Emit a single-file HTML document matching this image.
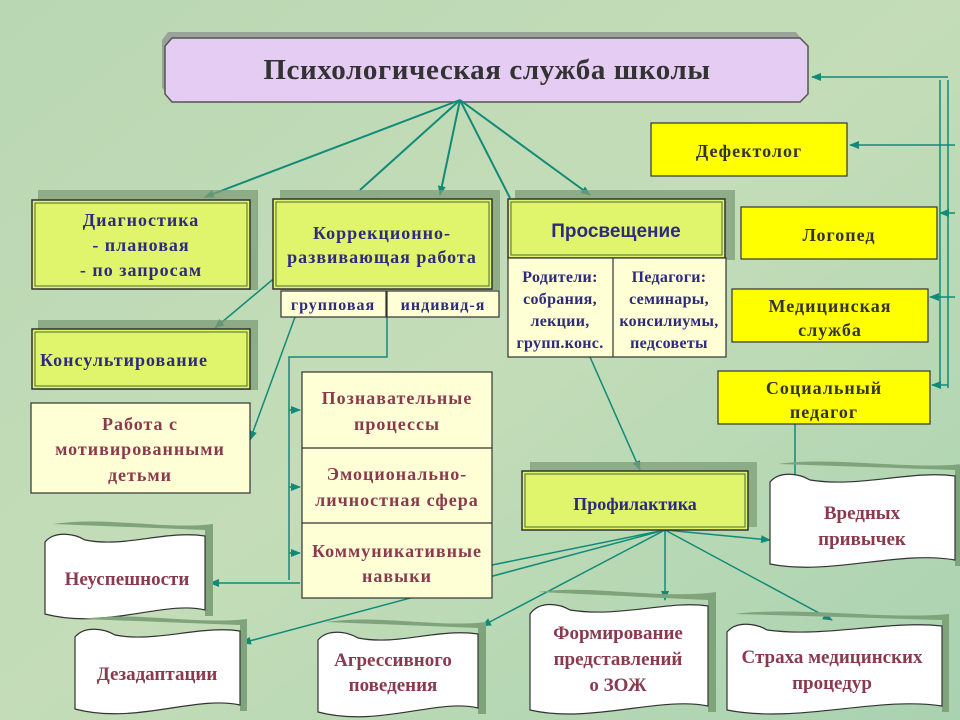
<!DOCTYPE html>
<html><head><meta charset="utf-8"><style>
html,body{margin:0;padding:0;width:960px;height:720px;overflow:hidden}
svg{display:block}
text{font-family:"Liberation Serif","Noto Serif CJK SC",serif;font-weight:bold}
.sp{letter-spacing:1px}
</style></head><body>
<svg width="960" height="720" viewBox="0 0 960 720" xmlns="http://www.w3.org/2000/svg">
<defs>
<linearGradient id="bg" x1="0" y1="0" x2="1" y2="1">
<stop offset="0" stop-color="#b9d7b3"/><stop offset="0.5" stop-color="#c4ddb8"/><stop offset="1" stop-color="#a9d2b0"/>
</linearGradient>
<marker id="a" markerWidth="10" markerHeight="8" refX="9" refY="4" orient="auto" markerUnits="userSpaceOnUse"><path d="M0,0 L10,4 L0,8 Z" fill="#128a78"/></marker>
</defs>
<rect width="960" height="720" fill="url(#bg)"/>

<!-- title -->
<path d="M172,38 L800,38 L806,46 L806,94 L800,100 L172,100 L166,94 L166,46 Z" fill="#9aa39a" transform="translate(-4,-6)"/>
<path d="M172,38 L800,38 L808,46 L808,94 L800,102 L172,102 L165,94 L165,46 Z" fill="#e4ccf2" stroke="#555" stroke-width="1.5"/>
<text x="487" y="79" font-size="29" text-anchor="middle" fill="#333" style="letter-spacing:0.6px">Психологическая служба школы</text>

<g stroke="#128a78" stroke-width="2" fill="none">
<line x1="460" y1="100" x2="205" y2="197" marker-end="url(#a)"/>
<line x1="460" y1="100" x2="440" y2="195" marker-end="url(#a)"/>
<line x1="460" y1="100" x2="360" y2="190"/>
<line x1="460" y1="100" x2="510" y2="198"/>
<line x1="460" y1="100" x2="590" y2="195" marker-end="url(#a)"/>
</g>
<g stroke="#128a78" stroke-width="1.5" fill="none">
<line x1="948" y1="80" x2="948" y2="388"/>
<line x1="940" y1="80" x2="940" y2="388"/>
<line x1="948" y1="77" x2="812" y2="77" marker-end="url(#a)"/>
<line x1="955" y1="145" x2="850" y2="145" marker-end="url(#a)"/>
<line x1="955" y1="213" x2="940" y2="213" marker-end="url(#a)"/>
<line x1="955" y1="297" x2="930" y2="297" marker-end="url(#a)"/>
<line x1="948" y1="385" x2="932" y2="385" marker-end="url(#a)"/>
<polyline points="795,424 795,492" marker-end="url(#a)"/>
<line x1="290" y1="265" x2="215" y2="328" marker-end="url(#a)"/>
<line x1="295" y1="317" x2="250" y2="440" marker-end="url(#a)"/>
<polyline points="387,317 387,357 289,357 289,580"/>
<line x1="289" y1="410" x2="300" y2="410" marker-end="url(#a)"/>
<line x1="289" y1="487" x2="300" y2="487" marker-end="url(#a)"/>
<line x1="289" y1="553" x2="300" y2="553" marker-end="url(#a)"/>
<line x1="590" y1="357" x2="640" y2="470" marker-end="url(#a)"/>
<line x1="665" y1="530" x2="492" y2="565"/>
<line x1="300" y1="583" x2="210" y2="583" marker-end="url(#a)"/>
<line x1="665" y1="530" x2="242" y2="643" marker-end="url(#a)"/>
<line x1="665" y1="530" x2="482" y2="626" marker-end="url(#a)"/>
<line x1="665" y1="530" x2="665" y2="600" marker-end="url(#a)"/>
<line x1="665" y1="530" x2="832" y2="620" marker-end="url(#a)"/>
<line x1="665" y1="530" x2="770" y2="540" marker-end="url(#a)"/>
</g>

<!-- shadows -->
<g fill="#7d9c78" opacity="0.75">
<rect x="38" y="190" width="220" height="100"/>
<rect x="280" y="190" width="220" height="100"/>
<rect x="515" y="190" width="220" height="70"/>
<rect x="38" y="320" width="220" height="70"/>
<rect x="530" y="462" width="227" height="65"/>
</g>
<g stroke="#333" stroke-width="1.5">
<rect x="32" y="200" width="218" height="89" fill="#e0f46c"/>
<rect x="273" y="199" width="219" height="90" fill="#e0f46c"/>
<rect x="508" y="199" width="217" height="59" fill="#e0f46c"/>
<rect x="32" y="329" width="218" height="60" fill="#e0f46c"/>
<rect x="522" y="471" width="226" height="59" fill="#e0f46c"/>
</g>
<g stroke="#4a6a3a" stroke-width="1" fill="none">
<rect x="35" y="203" width="212" height="83"/><rect x="276" y="202" width="213" height="84"/>
<rect x="511" y="202" width="211" height="53"/><rect x="35" y="332" width="212" height="54"/>
<rect x="525" y="474" width="220" height="53"/>
</g>
<g stroke="#333" stroke-width="1.2" fill="#ffffd6">
<rect x="281" y="291" width="105" height="26"/><rect x="387" y="291" width="112" height="26"/>
<rect x="31" y="403" width="219" height="90"/>
<rect x="302" y="372" width="190" height="226"/>
<line x1="302" y1="448" x2="492" y2="448"/><line x1="302" y1="523" x2="492" y2="523"/>
<rect x="508" y="258" width="218" height="99"/><line x1="613" y1="258" x2="613" y2="357"/>
</g>
<g stroke="#333" stroke-width="1.2" fill="#ffff00">
<rect x="651" y="123" width="196" height="53"/>
<rect x="741" y="207" width="196" height="52"/>
<rect x="732" y="289" width="196" height="53"/>
<rect x="718" y="371" width="212" height="53"/>
</g>

<g font-size="18" fill="#2e2a7e" text-anchor="middle" class="sp">
<text x="141" y="226">Диагностика</text><text x="141" y="251">- плановая</text><text x="141" y="276">- по запросам</text>
<text x="382" y="239">Коррекционно-</text><text x="382" y="263">развивающая  работа</text>
<text x="333" y="310" font-size="16">групповая</text><text x="443" y="310" font-size="16">индивид-я</text>
<text x="616" y="237" style="font-family:'Liberation Sans',sans-serif;letter-spacing:0" font-size="19">Просвещение</text>
<text x="560" y="282" font-size="16" style="letter-spacing:0.3px">Родители:</text><text x="560" y="304" font-size="16" style="letter-spacing:0.3px">собрания,</text><text x="560" y="326" font-size="16" style="letter-spacing:0.3px">лекции,</text><text x="560" y="348" font-size="16" style="letter-spacing:0.3px">групп.конс.</text>
<text x="669" y="282" font-size="16" style="letter-spacing:0.3px">Педагоги:</text><text x="669" y="304" font-size="16" style="letter-spacing:0.3px">семинары,</text><text x="669" y="326" font-size="16" style="letter-spacing:0.3px">консилиумы,</text><text x="669" y="348" font-size="16" style="letter-spacing:0.3px">педсоветы</text>
<text x="635" y="510" style="letter-spacing:0">Профилактика</text>
</g>
<text x="40" y="366" font-size="18" fill="#2e2a7e" class="sp">Консультирование</text>
<g font-size="18" fill="#8a3a4e" text-anchor="middle" class="sp">
<text x="140" y="430">Работа с</text><text x="140" y="455">мотивированными</text><text x="140" y="481">детьми</text>
<text x="397" y="404">Познавательные</text><text x="397" y="430">процессы</text>
<text x="397" y="480">Эмоционально-</text><text x="397" y="506">личностная сфера</text>
<text x="397" y="557">Коммуникативные</text><text x="397" y="582">навыки</text>
</g>
<g font-size="18" fill="#333" text-anchor="middle" class="sp">
<text x="749" y="157">Дефектолог</text>
<text x="839" y="241">Логопед</text>
<text x="830" y="312">Медицинская</text><text x="830" y="336">служба</text>
<text x="824" y="394">Социальный</text><text x="824" y="418">педагог</text>
</g>

<!-- scrolls -->
<g stroke="#333" stroke-width="1.2">
<g transform="translate(45,530)"><path d="M8,-6 C60,-14 120,0 168,-6 L168,86 L160,86 L160,0 Z" fill="#7fa37a" stroke="none"/><path d="M0,12 C10,0 30,4 40,10 C80,18 120,0 160,6 L160,80 C120,70 60,100 0,84 Z" fill="#fff"/></g>
<g transform="translate(75,625)"><path d="M8,-6 C60,-14 120,0 172,-6 L172,86 L165,86 L165,0 Z" fill="#7fa37a" stroke="none"/><path d="M0,12 C10,0 30,4 40,10 C80,18 125,0 165,6 L165,80 C120,70 60,100 0,84 Z" fill="#fff"/></g>
<g transform="translate(318,628)"><path d="M8,-6 C60,-14 120,0 168,-6 L168,86 L160,86 L160,0 Z" fill="#7fa37a" stroke="none"/><path d="M0,12 C10,0 30,4 40,10 C80,18 120,0 160,6 L160,80 C120,70 60,100 0,84 Z" fill="#fff"/></g>
<g transform="translate(530,600)"><path d="M8,-8 C60,-16 130,0 186,-8 L186,112 L178,112 L178,0 Z" fill="#7fa37a" stroke="none"/><path d="M0,14 C10,0 30,4 40,10 C90,18 140,0 178,6 L178,106 C130,96 60,124 0,110 Z" fill="#fff"/></g>
<g transform="translate(727,620)"><path d="M8,-6 C70,-14 160,0 222,-6 L222,92 L215,92 L215,0 Z" fill="#7fa37a" stroke="none"/><path d="M0,12 C10,0 30,4 40,10 C100,18 160,0 215,6 L215,86 C150,76 70,104 0,90 Z" fill="#fff"/></g>
<g transform="translate(770,470)"><path d="M8,-6 C60,-14 140,0 192,-6 L192,96 L185,96 L185,0 Z" fill="#7fa37a" stroke="none"/><path d="M0,12 C10,0 30,4 40,10 C90,18 140,0 185,6 L185,90 C130,80 60,106 0,94 Z" fill="#fff"/></g>
</g>
<g font-size="19" fill="#8a3a4e" text-anchor="middle">
<text x="127" y="585">Неуспешности</text>
<text x="157" y="680">Дезадаптации</text>
<text x="393" y="666">Агрессивного</text><text x="393" y="691">поведения</text>
<text x="618" y="639">Формирование</text><text x="618" y="665">представлений</text><text x="618" y="691">о ЗОЖ</text>
<text x="832" y="663">Страха медицинских</text><text x="832" y="689">процедур</text>
<text x="862" y="519">Вредных</text><text x="862" y="545">привычек</text>
</g>
</svg>
</body></html>
